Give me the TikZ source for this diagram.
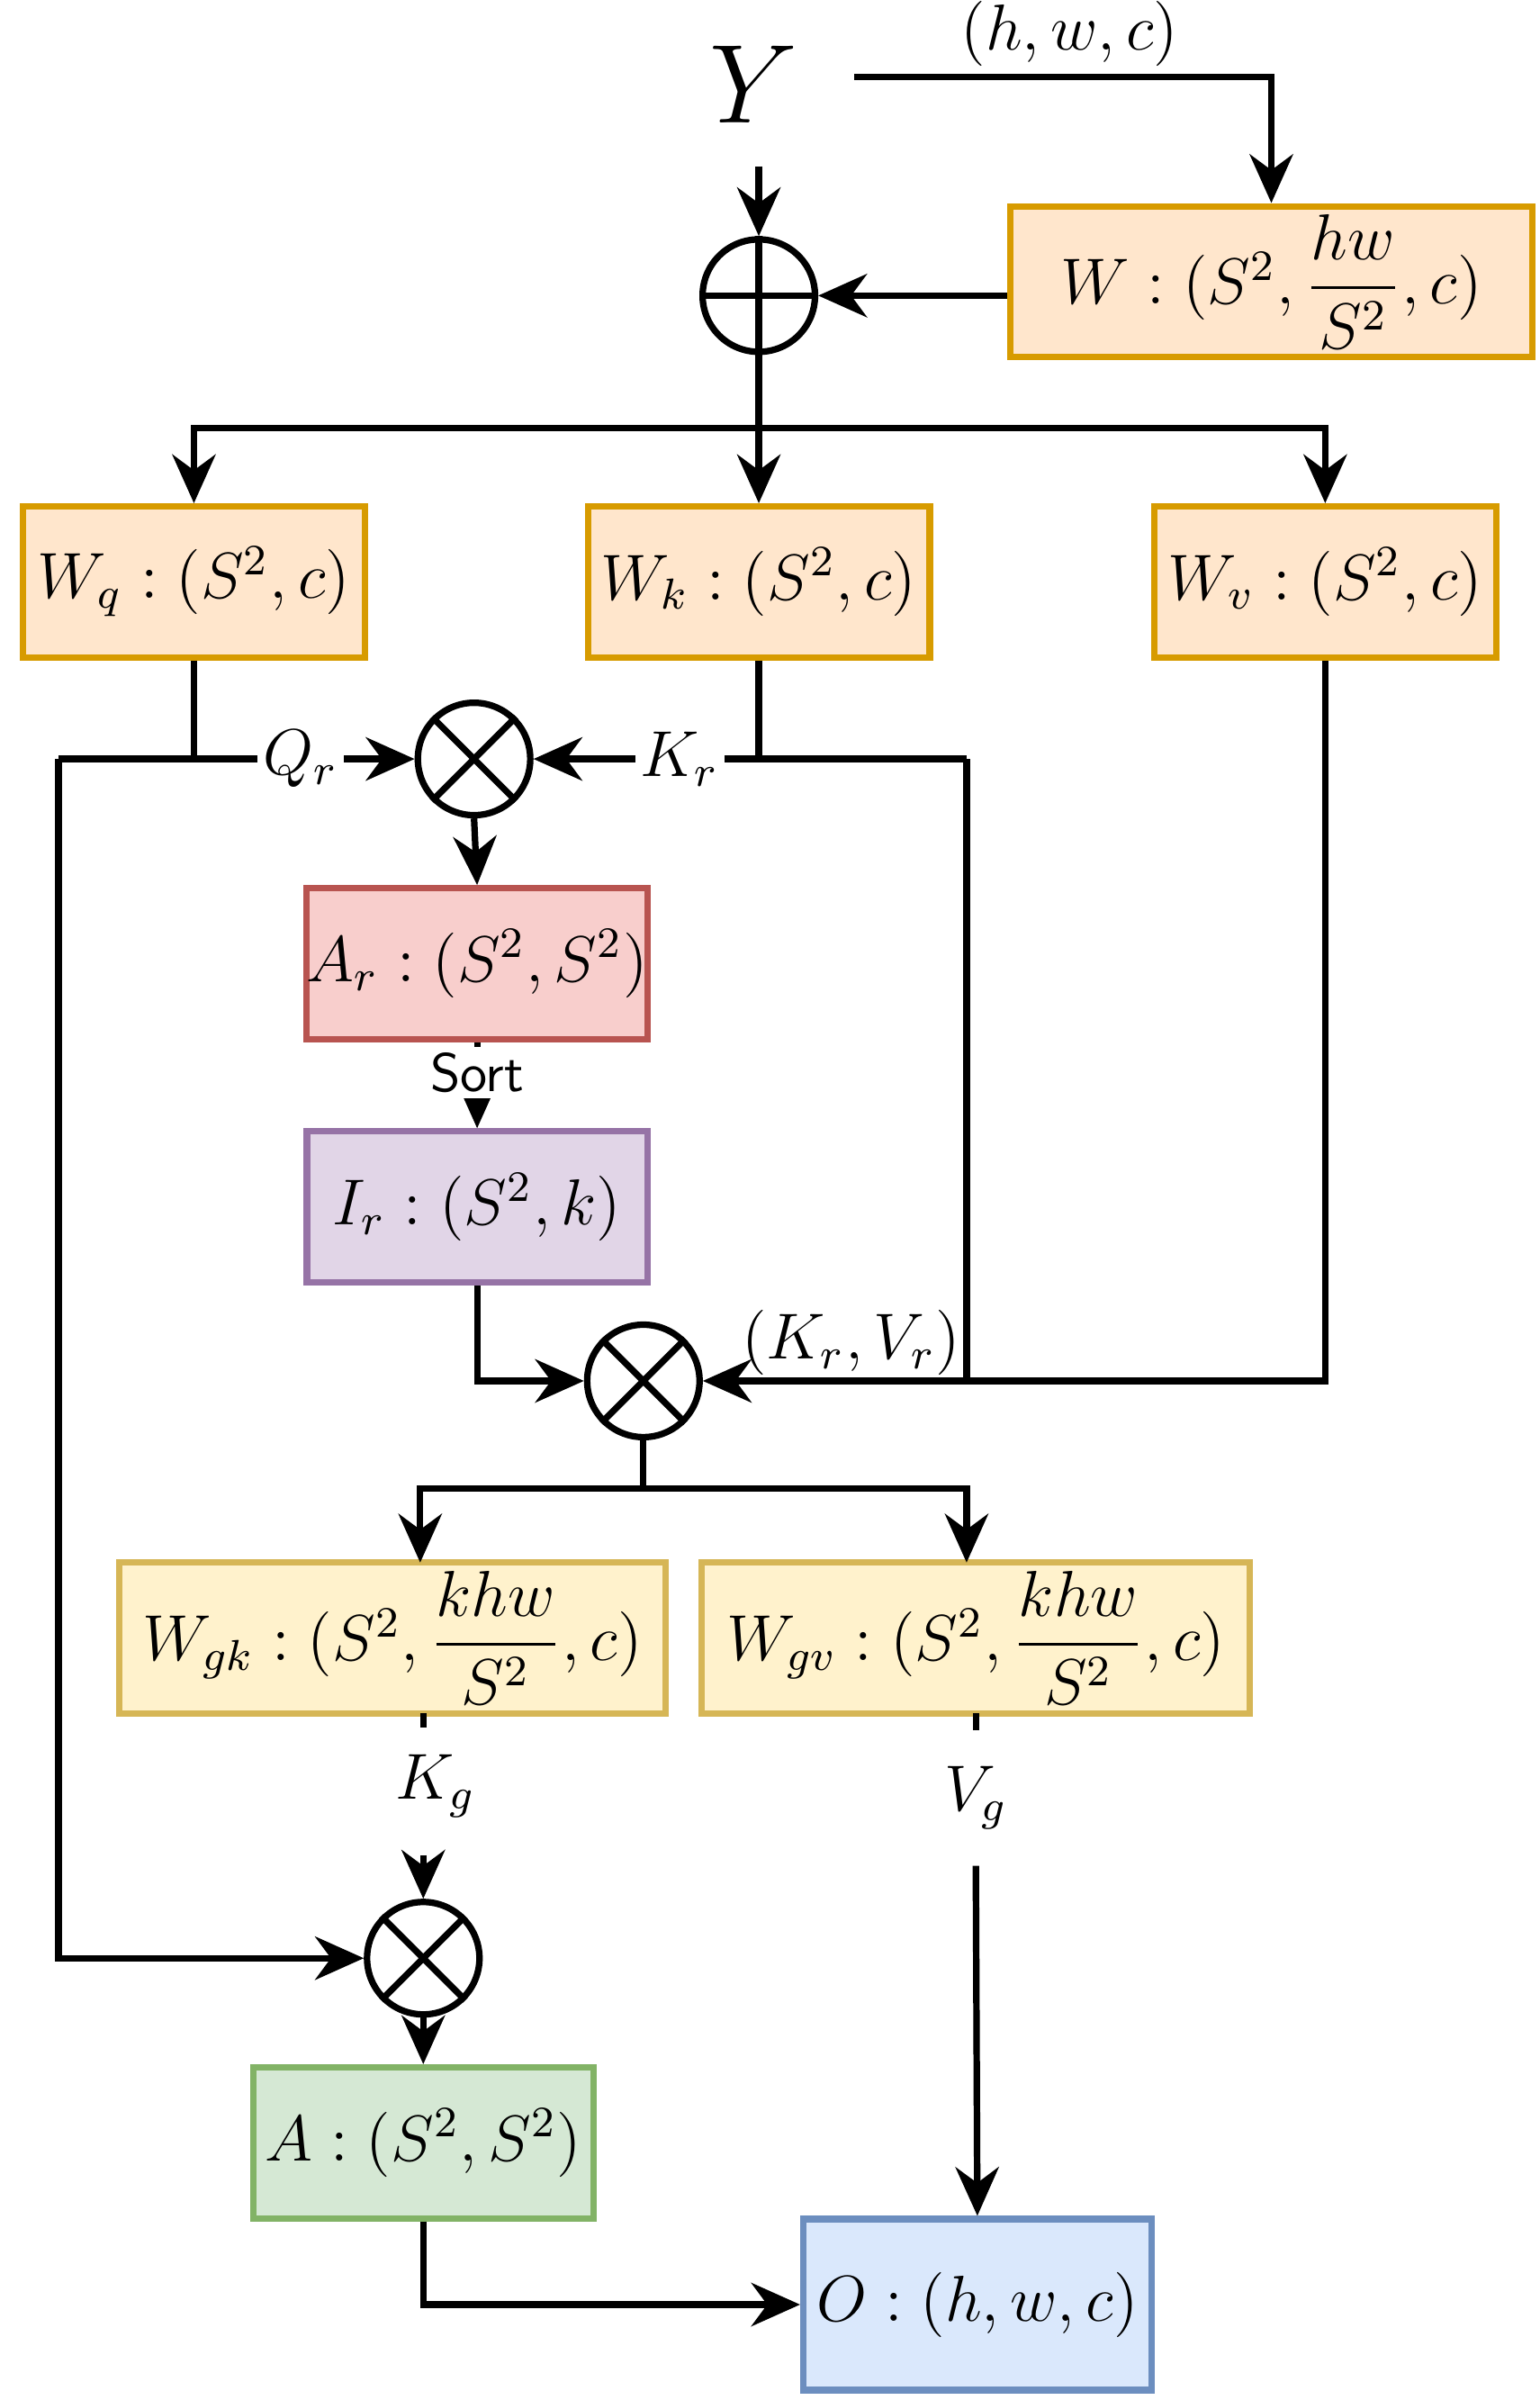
\documentclass[tikz,border=0pt]{standalone}
\usepackage{amsmath}
\usetikzlibrary{arrows.meta}
\definecolor{orfill}{HTML}{FFE6CC}\definecolor{ordraw}{HTML}{D79B00}
\definecolor{redfill}{HTML}{F8CECC}\definecolor{reddraw}{HTML}{B85450}
\definecolor{purfill}{HTML}{E1D5E7}\definecolor{purdraw}{HTML}{9673A6}
\definecolor{yelfill}{HTML}{FFF2CC}\definecolor{yeldraw}{HTML}{D6B656}
\definecolor{grnfill}{HTML}{D5E8D4}\definecolor{grndraw}{HTML}{82B366}
\definecolor{blufill}{HTML}{DAE8FC}\definecolor{bludraw}{HTML}{6C8EBF}
\tikzset{
    box/.style={rectangle, line width=1.2pt, minimum height=0.98cm, inner sep=0pt, font=\large},
    orbox/.style={box, fill=orfill, draw=ordraw},
    op/.style={circle, draw, line width=1.2pt, minimum size=0.73cm, inner sep=0pt},
    arr/.style={-{Stealth[length=9pt,width=8pt]}, line width=1.2pt},
    ln/.style={line width=1.2pt},
    lbl/.style={fill=white, inner sep=1pt, font=\large}
}
\begin{document}
\begin{tikzpicture}[x=0.01cm, y=-0.01cm]
    \useasboundingbox (0,0) rectangle (1000,1559);

    % --- input ---
    \node [font=\huge] (y) at (490,55) {$Y$};
    \node [op] (add) at (493,192) {};
    \draw [ln] (add.north) -- (add.south) (add.west) -- (add.east);
    \node [orbox, minimum width=3.39cm] (w) at (826,183) {$W:(S^2,\dfrac{hw}{S^2},c)$};
    \coordinate (yout) at (555,50);
    \draw [arr] (yout) -| (w.north);
    \node [font=\large] (hwc) at (695,22) {$(h,w,c)$};
    \draw [arr] (493,108) -- (add.north);
    \draw [arr] (w.west |- add) -- (add.east);

    % --- projections ---
    \node [orbox, minimum width=2.22cm] (wq) at (126,378) {$W_q:(S^2,c)$};
    \node [orbox, minimum width=2.22cm] (wk) at (493,378) {$W_k:(S^2,c)$};
    \node [orbox, minimum width=2.22cm] (wv) at (861,378) {$W_v:(S^2,c)$};
    \coordinate (split) at (493,278);
    \draw [ln] (add.south) -- (split);
    \draw [arr] (split) -- (wk.north);
    \draw [arr] (split) -| (wq.north);
    \draw [arr] (split) -| (wv.north);

    % --- region attention ---
    \node [op] (mul1) at (308,493) {};
    \draw [ln] (mul1.north west) -- (mul1.south east) (mul1.north east) -- (mul1.south west);
    \coordinate (qleft) at (38,493);
    \coordinate (kright) at (628,493);
    \draw [ln] (wq.south) |- (qleft);
    \draw [arr] (qleft) -- (mul1.west) node [lbl, pos=0.68] {$Q_r$};
    \draw [ln] (wk.south) |- (kright);
    \draw [arr] (493,493) -- (mul1.east) node [lbl, pos=0.35] {$K_r$};

    \node [box, fill=redfill, draw=reddraw, minimum width=2.21cm] (ar) at (310,626) {$A_r:(S^2,S^2)$};
    \node [box, fill=purfill, draw=purdraw, minimum width=2.21cm] (ir) at (310,784) {$I_r:(S^2,k)$};
    \draw [arr] (mul1.south) -- (ar.north);
    \draw [arr] (ar.south) -- (ir.north) node [lbl, pos=0.35, font=\sffamily\normalsize] {Sort};

    % --- gather ---
    \node [op] (mul2) at (418,897) {};
    \draw [ln] (mul2.north west) -- (mul2.south east) (mul2.north east) -- (mul2.south west);
    \draw [arr] (ir.south) |- (mul2.west);
    \draw [arr] (wv.south) |- (mul2.east);
    \draw [ln] (kright) -- (628,897);
    \node [font=\large] (kv) at (553,872) {$(K_r,V_r)$};

    \node [box, fill=yelfill, draw=yeldraw, minimum width=3.55cm] (wgk) at (255,1064) {$W_{gk}:(S^2,\dfrac{khw}{S^2},c)$};
    \node [box, fill=yelfill, draw=yeldraw, minimum width=3.56cm] (wgv) at (634,1064) {$W_{gv}:(S^2,\dfrac{khw}{S^2},c)$};
    \coordinate (gsplit) at (418,967);
    \draw [ln] (mul2.south) -- (gsplit);
    \draw [arr] (gsplit) -| (273,1015);
    \draw [arr] (gsplit) -| (628,1015);

    % --- token attention ---
    \node [op] (mul3) at (275,1272) {};
    \draw [ln] (mul3.north west) -- (mul3.south east) (mul3.north east) -- (mul3.south west);
    \node [font=\large] (kg) at (283,1160) {$K_g$};
    \draw [ln] (275,1113) -- (275,1122);
    \draw [arr] (275,1205) -- (mul3.north);
    \draw [arr] (qleft) |- (mul3.west);

    \node [box, fill=grnfill, draw=grndraw, minimum width=2.21cm] (a) at (275,1392) {$A:(S^2,S^2)$};
    \node [box, fill=blufill, draw=bludraw, minimum width=2.26cm, minimum height=1.11cm] (o) at (635,1497) {$O:(h,w,c)$};
    \draw [arr] (mul3.south) -- (a.north);
    \draw [arr] (a.south) |- (o.west);
    \node [font=\large] (vg) at (634,1168) {$V_g$};
    \draw [ln] (634,1113) -- (634,1124);
    \draw [arr] (634,1212) -- (o.north);
\end{tikzpicture}
\end{document}
